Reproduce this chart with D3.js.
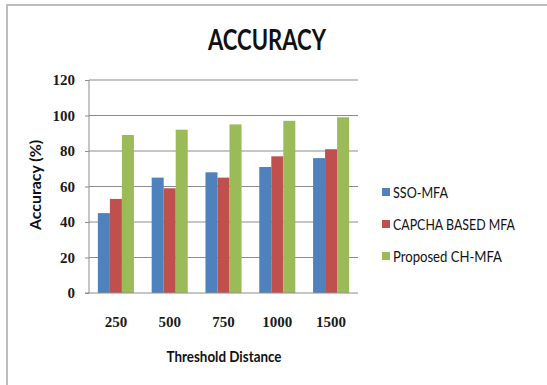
<!DOCTYPE html>
<html>
<head>
<meta charset="utf-8">
<script src="https://cdn.jsdelivr.net/npm/d3@7"></script>
<style>
  html, body { margin: 0; padding: 0; background: #fff; }
  svg { display: block; }
</style>
</head>
<body>
<script>
// Chart data
const categories = ["250", "500", "750", "1000", "1500"];
const seriesNames = ["SSO-MFA", "CAPCHA BASED MFA", "Proposed CH-MFA"];
const ssoMfa = [45, 65, 68, 71, 76];
const capchaMfa = [53, 59, 65, 77, 81];
const proposedChMfa = [89, 92, 95, 97, 99];
const yTicks = [0, 20, 40, 60, 80, 100, 120];
const colors = ["#4F81BD", "#C0504D", "#9BBB59"];

const seriesValues = [ssoMfa, capchaMfa, proposedChMfa];

const W = 547, H = 385;
const sansFont = "Lato, 'Open Sans', sans-serif";
const serifFont = "'Liberation Serif', 'DejaVu Serif', serif";

const svg = d3.select("body").append("svg")
  .attr("width", W).attr("height", H);

// chart frame
svg.append("path")
  .attr("d", `M7,${H} V5 H${W}`)
  .attr("fill", "none")
  .attr("stroke", "#bdbdbd")
  .attr("stroke-width", 2);

const plot = { left: 89, right: 358, top: 80, bottom: 293 };

const x = d3.scaleBand()
  .domain(categories)
  .range([plot.left, plot.right])
  .paddingInner(0.33)
  .paddingOuter(0.165);

const x1 = d3.scaleBand()
  .domain(d3.range(seriesNames.length))
  .range([0, x.bandwidth()]);

const y = d3.scaleLinear()
  .domain([0, 120])
  .range([plot.bottom, plot.top]);

// horizontal gridlines
svg.append("g")
  .selectAll("line")
  .data(yTicks.filter(t => t > 0))
  .join("line")
  .attr("x1", plot.left).attr("x2", plot.right)
  .attr("y1", d => y(d)).attr("y2", d => y(d))
  .attr("stroke", "#8c8c8c").attr("stroke-width", 1);

// bars
const groups = svg.append("g")
  .selectAll("g")
  .data(categories)
  .join("g")
  .attr("transform", d => `translate(${x(d)},0)`);

groups.selectAll("rect")
  .data((c, i) => seriesValues.map((vals, s) => ({ s, v: vals[i] })))
  .join("rect")
  .attr("x", d => x1(d.s))
  .attr("width", x1.bandwidth())
  .attr("y", d => y(d.v))
  .attr("height", d => y(0) - y(d.v))
  .attr("fill", d => colors[d.s]);

// y axis
const yAxis = svg.append("g")
  .attr("transform", `translate(${plot.left},0)`)
  .call(d3.axisLeft(y).tickValues(yTicks).tickSize(4).tickPadding(10));
yAxis.select(".domain").attr("stroke", "#8c8c8c").attr("d", `M0,${plot.top}V${plot.bottom}`);
yAxis.selectAll(".tick line").attr("stroke", "#8c8c8c");
yAxis.selectAll("text")
  .attr("font-family", serifFont)
  .attr("font-size", 15)
  .attr("font-weight", "bold")
  .attr("fill", "#1a1a1a");

// x axis baseline
svg.append("line")
  .attr("x1", plot.left - 4).attr("x2", plot.right)
  .attr("y1", plot.bottom).attr("y2", plot.bottom)
  .attr("stroke", "#8c8c8c");

// x labels
svg.append("g")
  .selectAll("text")
  .data(categories)
  .join("text")
  .attr("x", d => x(d) + x.bandwidth() / 2)
  .attr("y", 327)
  .attr("text-anchor", "middle")
  .attr("font-family", serifFont)
  .attr("font-size", 15)
  .attr("font-weight", "bold")
  .attr("fill", "#1a1a1a")
  .text(d => d);

// title
svg.append("text")
  .attr("x", 267).attr("y", 50)
  .attr("text-anchor", "middle")
  .attr("font-family", sansFont)
  .attr("font-weight", "bold")
  .attr("font-size", 29)
  .attr("textLength", 118)
  .attr("lengthAdjust", "spacingAndGlyphs")
  .attr("fill", "#111")
  .text("ACCURACY");

// axis titles
svg.append("text")
  .attr("x", 224).attr("y", 362)
  .attr("text-anchor", "middle")
  .attr("font-family", sansFont)
  .attr("font-weight", "bold")
  .attr("font-size", 16)
  .attr("textLength", 115)
  .attr("lengthAdjust", "spacingAndGlyphs")
  .attr("fill", "#111")
  .text("Threshold Distance");

svg.append("text")
  .attr("transform", "translate(41,185) rotate(-90)")
  .attr("text-anchor", "middle")
  .attr("font-family", sansFont)
  .attr("font-weight", "bold")
  .attr("font-size", 15)
  .attr("textLength", 90)
  .attr("lengthAdjust", "spacingAndGlyphs")
  .attr("fill", "#111")
  .text("Accuracy (%)");

// legend
const legendWidths = [55, 122, 109];
const legend = svg.append("g")
  .selectAll("g")
  .data(seriesNames)
  .join("g")
  .attr("transform", (d, i) => `translate(382,${192 + i * 32})`);
legend.append("rect")
  .attr("x", 0).attr("y", -4)
  .attr("width", 8).attr("height", 8)
  .attr("fill", (d, i) => colors[i]);
legend.append("text")
  .attr("x", 11).attr("y", 6)
  .attr("font-family", sansFont)
  .attr("font-size", 15)
  .attr("textLength", (d, i) => legendWidths[i])
  .attr("lengthAdjust", "spacingAndGlyphs")
  .attr("fill", "#111")
  .text(d => d);
</script>
</body>
</html>
